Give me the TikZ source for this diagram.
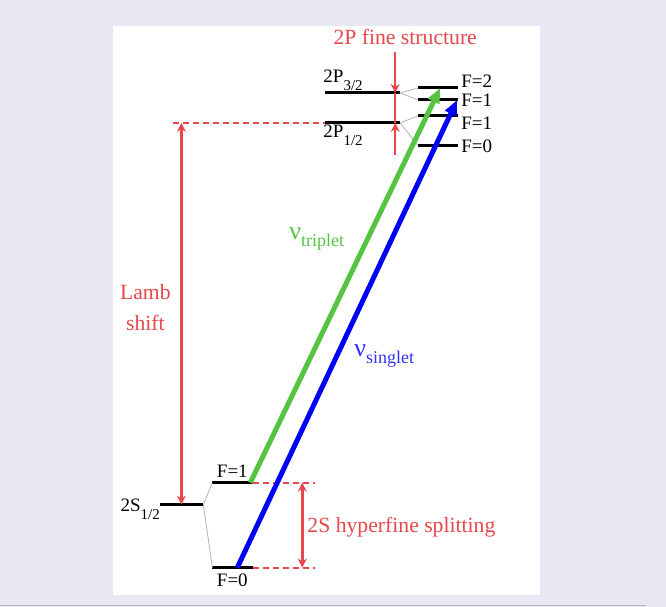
\documentclass[tikz,border=0pt]{standalone}
\usepackage{fontspec}
\setmainfont{Liberation Serif}
\usetikzlibrary{arrows.meta}
\definecolor{pagebg}{HTML}{E8E8F4}
\definecolor{shiftred}{HTML}{E8474C}
\definecolor{tripgreen}{HTML}{55C443}
\definecolor{singblue}{HTML}{0000F5}
\definecolor{linkgray}{HTML}{B4B4B4}
\newcommand{\sublab}[2]{#1\raisebox{-8pt}{\fontsize{15}{15}\selectfont #2}}
\newcommand{\nulab}[1]{{\fontsize{26}{26}\selectfont ν}\raisebox{-7pt}{\fontsize{18}{18}\selectfont #1}}
\tikzset{
  statebar/.style={black,line width=3pt},
  fanline/.style={linkgray,line width=0.8pt},
  shiftarrow/.style={shiftred,line width=2.5pt,-{Stealth[length=9pt,width=9pt]}},
  shiftboth/.style={shiftred,line width=2.5pt,{Stealth[length=9pt,width=9pt]}-{Stealth[length=9pt,width=9pt]}},
  guide/.style={shiftred,line width=2pt,dash pattern=on 6pt off 4pt},
  transition/.style={line width=5pt,-{Triangle[length=15pt,width=12pt]}},
  redtext/.style={text=shiftred,inner sep=0pt,font=\fontsize{21.7}{31}\selectfont},
  lvltext/.style={inner sep=0pt,font=\fontsize{19}{19}\selectfont}
}
\begin{document}
\begin{tikzpicture}[x=1pt,y=-1pt]
% page
\fill[pagebg] (0,0) rectangle (666,607);
\fill[white] (113,26) rectangle (540,595);
\draw[linkgray,line width=1pt] (0,606) -- (646,606);
% 2S levels
\coordinate (s12-l) at (160,505); \coordinate (s12-r) at (203,505);
\coordinate (sF1-l) at (212,483); \coordinate (sF1-r) at (253,483);
\coordinate (sF0-l) at (212,568); \coordinate (sF0-r) at (253,568);
% 2P levels
\coordinate (p32-l) at (325,93); \coordinate (p32-r) at (400,93);
\coordinate (p12-l) at (325,123); \coordinate (p12-r) at (400,123);
\foreach \n/\y in {F2/88,F1a/100,F1b/116,F0/146}{
  \coordinate (p\n-l) at (418,\y);
  \coordinate (p\n-r) at (458,\y);
}
\foreach \a in {s12,sF1,sF0,p32,p12,pF2,pF1a,pF1b,pF0}
  \draw[statebar] (\a-l) -- (\a-r);
\draw[fanline] (sF1-l) -- (s12-r) -- (sF0-l);
\draw[fanline] (pF2-l) -- (p32-r) -- (pF1a-l);
\draw[fanline] (pF1b-l) -- (p12-r) -- (pF0-l);
% level labels
\node[lvltext,anchor=base west] (p32lab) at (323,83) {\sublab{2P}{3/2}};
\node[lvltext,anchor=base west] (p12lab) at (323,138) {\sublab{2P}{1/2}};
\node[lvltext,anchor=base west] (s12lab) at (120,512) {\sublab{2S}{1/2}};
\node[lvltext,anchor=base] (sF1lab) at (232,478) {F=1};
\node[lvltext,anchor=base] (sF0lab) at (232,587) {F=0};
\foreach \n/\t/\y in {F2/F=2/81,F1a/F=1/100,F1b/F=1/123,F0/F=0/146}
  \node[lvltext,anchor=west] (p\n lab) at (461,\y) {\t};
% fine structure
\coordinate (fsTop) at (395,52);
\coordinate (fsBot) at (395,155);
\draw[shiftred,line width=2.5pt] (fsTop |- p32-r) -- (fsTop |- p12-r);
\draw[shiftarrow] (fsTop) -- (fsTop |- p32-r);
\draw[shiftarrow] (fsBot) -- (fsBot |- p12-r);
\node[redtext,anchor=base] (finelab) at (405,45) {2P fine structure};
% Lamb shift
\coordinate (lambTop) at (181,123);
\coordinate (lambEnd) at (173,123);
\draw[guide] (lambEnd) -- (p12-l);
\draw[shiftboth] (lambTop) -- (lambTop |- s12-l);
\node[redtext,align=center] (lamblab) at (145,308) {Lamb\\shift};
% 2S hyperfine
\coordinate (hfsTop) at (315,483);
\coordinate (hfsBot) at (315,568);
\draw[guide] (sF1-r) -- (hfsTop);
\draw[guide] (sF0-r) -- (hfsBot);
\draw[shiftboth] ([xshift=-13pt]hfsTop) -- ([xshift=-13pt]hfsBot);
\node[redtext,anchor=base west] (hfslab) at (307,533) {2S hyperfine splitting};
% transitions
\coordinate (tripStart) at (250,483);
\coordinate (tripEnd) at (440,88);
\coordinate (singStart) at (237,568);
\coordinate (singEnd) at (457,100);
\draw[transition,tripgreen] (tripStart) -- (tripEnd);
\draw[transition,singblue] (singStart) -- (singEnd);
\node[anchor=base west,inner sep=0pt,text=tripgreen] (triplab) at (289,240) {\nulab{triplet}};
\node[anchor=base west,inner sep=0pt,text=singblue!80] (singlab) at (354,357) {\nulab{singlet}};
\end{tikzpicture}
\end{document}
